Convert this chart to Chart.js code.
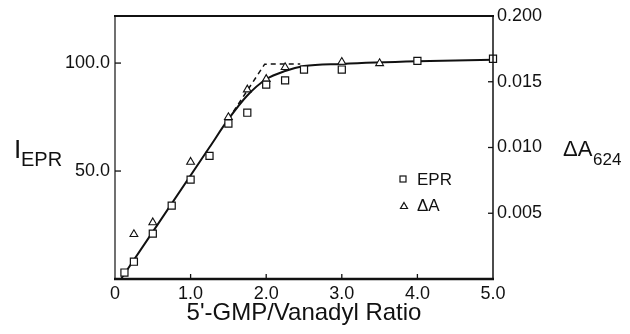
<!DOCTYPE html>
<html lang="en">
<head>
<meta charset="UTF-8">
<title>EPR vs 5'-GMP/Vanadyl</title>
<style>
  html, body { margin: 0; padding: 0; background: #fff; }
  .grafico { position: relative; width: 630px; height: 334px; }
</style>
</head>
<body>
<div class="grafico"><canvas id="grafico-epr"></canvas></div>
<script src="https://cdn.jsdelivr.net/npm/chart.js"></script>
<script>
// pontos medidos (EPR no eixo esquerdo, deltaA no eixo direito)
var eprX = [0.125, 0.25, 0.5, 0.75, 1.0, 1.25, 1.5, 1.75, 2.0, 2.25, 2.5, 3.0, 4.0, 5.0];
var eprY = [3, 8, 21, 34, 46, 57, 72, 77, 90, 92, 97, 97, 101, 102];
var absX = [0.25, 0.5, 1.0, 1.5, 1.75, 2.0, 2.25, 3.0, 3.5];
var absY = [0.0034, 0.0043, 0.0089, 0.0123, 0.0144, 0.0152, 0.0161, 0.0165, 0.0164];

// curvas ajustadas
var ajusteEprX = [0.08, 1.25, 1.5, 1.75, 2.0, 2.25, 2.5, 3.0, 4.0, 5.0];
var ajusteEprY = [0, 61, 74, 85, 92.5, 96.3, 98.6, 99.6, 100.8, 101.5];
var ajusteAbsX = [1.5, 1.98, 2.45];
var ajusteAbsY = [74, 99.5, 99.6];

// ticks
var xTicks = [0, 1, 2, 3, 4, 5];
var xTickLabels = ['0', '1.0', '2.0', '3.0', '4.0', '5.0'];
var yTicks = [50, 100];
var yTickLabels = ['50.0', '100.0'];
var y2Ticks = [0.005, 0.010, 0.015, 0.020];
var y2TickLabels = ['0.005', '0.010', '0.015', '0.200'];

var fonte = '"Liberation Sans", Arial, Helvetica, sans-serif';

function pares(xs, ys) {
    return xs.map(function (x, i) { return { x: x, y: ys[i] }; });
}

// moldura, marcas dos ticks, títulos e legenda
var moldura = {
    id: 'moldura',
    afterDatasetsDraw: function (chart) {
        var ctx = chart.ctx;
        var a = chart.chartArea;
        var sx = chart.scales.x, sy = chart.scales.y, sy2 = chart.scales.y2;
        ctx.save();
        ctx.strokeStyle = '#111';
        ctx.lineCap = 'butt';

        function linha(x1, y1, x2, y2, w) {
            ctx.lineWidth = w;
            ctx.beginPath();
            ctx.moveTo(x1, y1);
            ctx.lineTo(x2, y2);
            ctx.stroke();
        }
        linha(a.left - 1, a.top, a.right + 1, a.top, 2);
        linha(a.left - 1, a.bottom, a.right + 1, a.bottom, 2.5);
        linha(a.left, a.top, a.left, a.bottom, 1.2);
        linha(a.right, a.top, a.right, a.bottom, 1.5);

        xTicks.forEach(function (v) {
            if (v === 0 || v === 5) return;
            var px = sx.getPixelForValue(v);
            linha(px, a.bottom, px, a.bottom - 5, 1.3);
        });
        yTicks.forEach(function (v) {
            var py = sy.getPixelForValue(v);
            linha(a.left, py, a.left + 6, py, 1.3);
        });
        y2Ticks.forEach(function (v) {
            if (v >= 0.02) return;
            var py = sy2.getPixelForValue(v);
            linha(a.right, py, a.right - 5, py, 1.3);
        });

        ctx.fillStyle = '#111';
        ctx.textBaseline = 'alphabetic';
        ctx.textAlign = 'left';
        ctx.font = '26px ' + fonte;
        ctx.fillText('I', 14, 158);
        ctx.font = '20px ' + fonte;
        ctx.fillText('EPR', 21, 166);

        ctx.font = '22px ' + fonte;
        ctx.fillText('\u0394A', 563, 156);
        ctx.font = '17px ' + fonte;
        ctx.fillText('624', 593, 165);

        ctx.textAlign = 'center';
        ctx.font = '24px ' + fonte;
        ctx.fillText("5'-GMP/Vanadyl Ratio", (a.left + a.right) / 2, 320);

        // legenda
        ctx.lineWidth = 1.2;
        ctx.fillStyle = '#fff';
        ctx.fillRect(400, 176, 6, 6);
        ctx.strokeRect(400, 176, 6, 6);
        ctx.beginPath();
        ctx.moveTo(404, 202.5);
        ctx.lineTo(407.5, 208.5);
        ctx.lineTo(400.5, 208.5);
        ctx.closePath();
        ctx.fill();
        ctx.stroke();
        ctx.fillStyle = '#111';
        ctx.textAlign = 'left';
        ctx.textBaseline = 'middle';
        ctx.font = '17px ' + fonte;
        ctx.fillText('EPR', 417, 180);
        ctx.fillText('\u0394A', 417, 206);
        ctx.restore();
    }
};

var graficoEpr = new Chart(document.getElementById('grafico-epr'), {
    type: 'scatter',
    data: {
        datasets: [
            {
                label: 'EPR',
                data: pares(eprX, eprY),
                yAxisID: 'y',
                pointStyle: 'rect',
                pointRadius: 5,
                pointBackgroundColor: '#fff',
                pointBorderColor: '#111',
                pointBorderWidth: 1.2,
                showLine: false,
                clip: false,
                order: 1
            },
            {
                label: '\u0394A',
                data: pares(absX, absY),
                yAxisID: 'y2',
                pointStyle: 'triangle',
                pointRadius: 4.5,
                pointBackgroundColor: '#fff',
                pointBorderColor: '#111',
                pointBorderWidth: 1.1,
                showLine: false,
                clip: false,
                order: 1
            },
            {
                label: 'ajuste EPR',
                data: pares(ajusteEprX, ajusteEprY),
                yAxisID: 'y',
                showLine: true,
                borderColor: '#111',
                borderWidth: 2,
                pointRadius: 0,
                cubicInterpolationMode: 'monotone',
                clip: false,
                order: 2
            },
            {
                label: 'ajuste \u0394A',
                data: pares(ajusteAbsX, ajusteAbsY),
                yAxisID: 'y',
                showLine: true,
                borderColor: '#111',
                borderWidth: 1.5,
                borderDash: [5, 4],
                pointRadius: 0,
                tension: 0,
                clip: false,
                order: 3
            }
        ]
    },
    options: {
        responsive: true,
        maintainAspectRatio: false,
        animation: false,
        layout: { padding: { top: 16, left: 0, right: 0, bottom: 0 } },
        plugins: {
            legend: { display: false },
            tooltip: { enabled: false }
        },
        scales: {
            x: {
                type: 'linear',
                min: 0,
                max: 5,
                grid: { display: false, drawTicks: false, tickLength: 0 },
                border: { display: false },
                afterBuildTicks: function (s) { s.ticks = xTicks.map(function (v) { return { value: v }; }); },
                afterFit: function (s) { s.height = 55; },
                ticks: {
                    autoSkip: false,
                    maxRotation: 0,
                    padding: 4,
                    color: '#111',
                    font: { family: fonte, size: 18 },
                    callback: function (v, i) { return xTickLabels[i]; }
                }
            },
            y: {
                type: 'linear',
                position: 'left',
                min: 0,
                max: 121.8,
                grid: { display: false, drawTicks: false, tickLength: 0 },
                border: { display: false },
                afterBuildTicks: function (s) { s.ticks = yTicks.map(function (v) { return { value: v }; }); },
                afterFit: function (s) { s.width = 115; },
                ticks: {
                    autoSkip: false,
                    padding: 5,
                    color: '#111',
                    font: { family: fonte, size: 18 },
                    callback: function (v, i) { return yTickLabels[i]; }
                }
            },
            y2: {
                type: 'linear',
                position: 'right',
                min: 0,
                max: 0.02,
                grid: { display: false, drawTicks: false, tickLength: 0 },
                border: { display: false },
                afterBuildTicks: function (s) { s.ticks = y2Ticks.map(function (v) { return { value: v }; }); },
                afterFit: function (s) { s.width = 137; },
                ticks: {
                    autoSkip: false,
                    padding: 4,
                    color: '#111',
                    font: { family: fonte, size: 18 },
                    callback: function (v, i) { return y2TickLabels[i]; }
                }
            }
        }
    },
    plugins: [moldura]
});
</script>
</body>
</html>
